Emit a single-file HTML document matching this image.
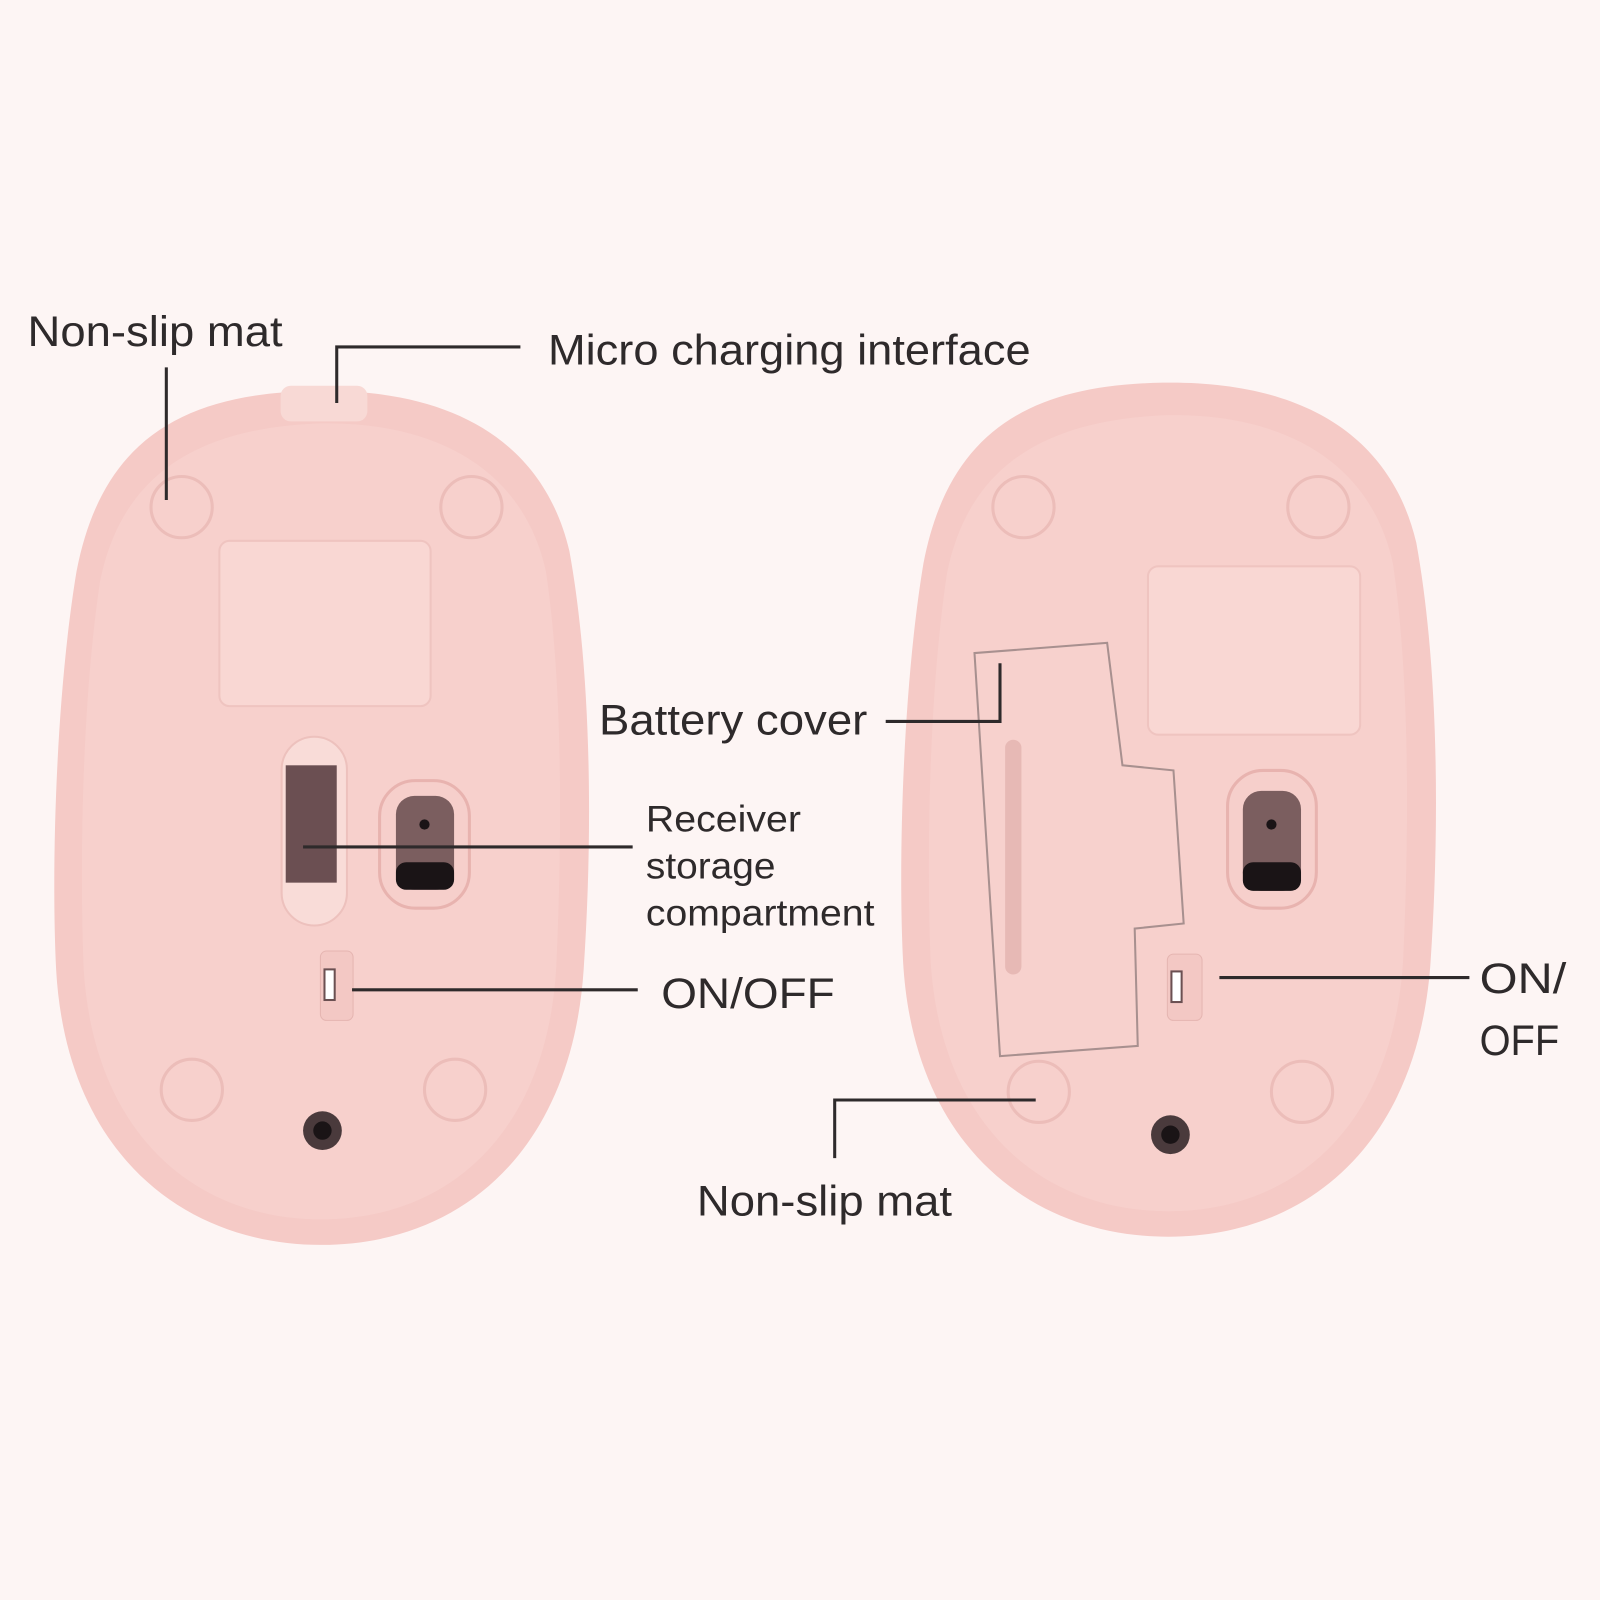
<!DOCTYPE html>
<html><head><style>
html,body{margin:0;padding:0;background:#fdf5f4;}
svg{display:block}
text{font-family:"Liberation Sans",sans-serif;fill:#2e2a2b}
</style></head><body>
<svg width="1600" height="1600" viewBox="0 0 1568 1568" xmlns="http://www.w3.org/2000/svg">
<rect width="1568" height="1568" fill="#fdf5f4"/>
<defs>
<g id="body">
<path d="M310 383 C180 385 100 430 75 560 C55 680 50 850 55 950 C65 1130 180 1220 315 1220 C450 1220 560 1130 572 950 C582 800 578 650 558 540 C532 430 440 381 310 383Z" fill="#f5cac6"/>
<path d="M310 415 C200 420 120 460 98 570 C80 690 78 850 82 950 C92 1110 190 1195 315 1195 C440 1195 535 1110 545 950 C552 800 550 660 535 560 C512 455 420 412 310 415Z" fill="#f7d0cc"/>
</g>
</defs>
<use href="#body"/>
<rect x="275" y="378" width="85" height="35" rx="10" fill="#f8d9d5"/>
<g fill="none" stroke="#ecbdb9" stroke-width="3">
<circle cx="178" cy="497" r="30"/><circle cx="462" cy="497" r="30"/>
<circle cx="188" cy="1068" r="30"/><circle cx="446" cy="1068" r="30"/>
</g>
<rect x="215" y="530" width="207" height="162" rx="10" fill="#f9d7d3" stroke="#efc4c0" stroke-width="2"/>
<rect x="276" y="722" width="64" height="185" rx="32" fill="#f9dcd8" stroke="#edc1bd" stroke-width="2"/>
<rect x="280" y="750" width="50" height="115" fill="#6b4f52"/>
<rect x="372" y="765" width="88" height="125" rx="35" fill="#f6cfcb" stroke="#e8b3af" stroke-width="3"/>
<rect x="388" y="780" width="57" height="92" rx="18" fill="#7b5e5f"/>
<rect x="388" y="845" width="57" height="27" rx="10" fill="#1a1416"/>
<circle cx="416" cy="808" r="5" fill="#1a1416"/>
<rect x="314" y="932" width="32" height="68" rx="6" fill="#f3c8c4" stroke="#e5b5b1"/>
<rect x="318" y="950" width="10" height="30" fill="#fff" stroke="#6b5052" stroke-width="2"/>
<circle cx="316" cy="1108" r="19" fill="#4a3a3c"/><circle cx="316" cy="1108" r="9" fill="#1a1416"/>
<use href="#body" transform="translate(830,-8)"/>
<g fill="none" stroke="#ecbdb9" stroke-width="3">
<circle cx="1003" cy="497" r="30"/><circle cx="1292" cy="497" r="30"/>
<circle cx="1018" cy="1070" r="30"/><circle cx="1276" cy="1070" r="30"/>
</g>
<rect x="1125" y="555" width="208" height="165" rx="10" fill="#f9d7d3" stroke="#efc4c0" stroke-width="2"/>
<path d="M955 640 L1085 630 L1100 750 L1150 755 L1160 905 L1112 910 L1115 1025 L980 1035 Z" fill="#f7d1cd" stroke="#a8908f" stroke-width="2"/>
<rect x="985" y="725" width="16" height="230" rx="8" fill="#e7b9b5"/>
<rect x="1203" y="755" width="87" height="135" rx="35" fill="#f6cfcb" stroke="#e8b3af" stroke-width="3"/>
<rect x="1218" y="775" width="57" height="98" rx="18" fill="#7b5e5f"/>
<rect x="1218" y="845" width="57" height="28" rx="10" fill="#1a1416"/>
<circle cx="1246" cy="808" r="5" fill="#1a1416"/>
<rect x="1144" y="935" width="34" height="65" rx="6" fill="#f3c8c4" stroke="#e5b5b1"/>
<rect x="1148" y="952" width="10" height="30" fill="#fff" stroke="#6b5052" stroke-width="2"/>
<circle cx="1147" cy="1112" r="19" fill="#4a3a3c"/><circle cx="1147" cy="1112" r="9" fill="#1a1416"/>
<g fill="none" stroke="#2e2a2b" stroke-width="3">
<path d="M163 360 V490"/>
<path d="M330 395 V340 H510"/>
<path d="M297 830 H620"/>
<path d="M345 970 H625"/>
<path d="M868 707 H980 V650"/>
<path d="M1195 958 H1440"/>
<path d="M1015 1078 H818 V1135"/>
</g>
<g font-size="42">
<text x="27" y="339" textLength="250" lengthAdjust="spacingAndGlyphs">Non-slip mat</text>
<text x="537" y="357" textLength="473" lengthAdjust="spacingAndGlyphs">Micro charging interface</text>
<text x="587" y="720" textLength="263" lengthAdjust="spacingAndGlyphs">Battery cover</text>
<text x="648" y="988" textLength="170" lengthAdjust="spacingAndGlyphs">ON/OFF</text>
<text x="1450" y="973" textLength="85" lengthAdjust="spacingAndGlyphs">ON/</text>
<text x="1450" y="1034" textLength="78" lengthAdjust="spacingAndGlyphs">OFF</text>
<text x="683" y="1191" textLength="250" lengthAdjust="spacingAndGlyphs">Non-slip mat</text>
</g>
<g font-size="36">
<text x="633" y="815" textLength="152" lengthAdjust="spacingAndGlyphs">Receiver</text>
<text x="633" y="861" textLength="127" lengthAdjust="spacingAndGlyphs">storage</text>
<text x="633" y="907" textLength="224" lengthAdjust="spacingAndGlyphs">compartment</text>
</g>
</svg>
</body></html>
